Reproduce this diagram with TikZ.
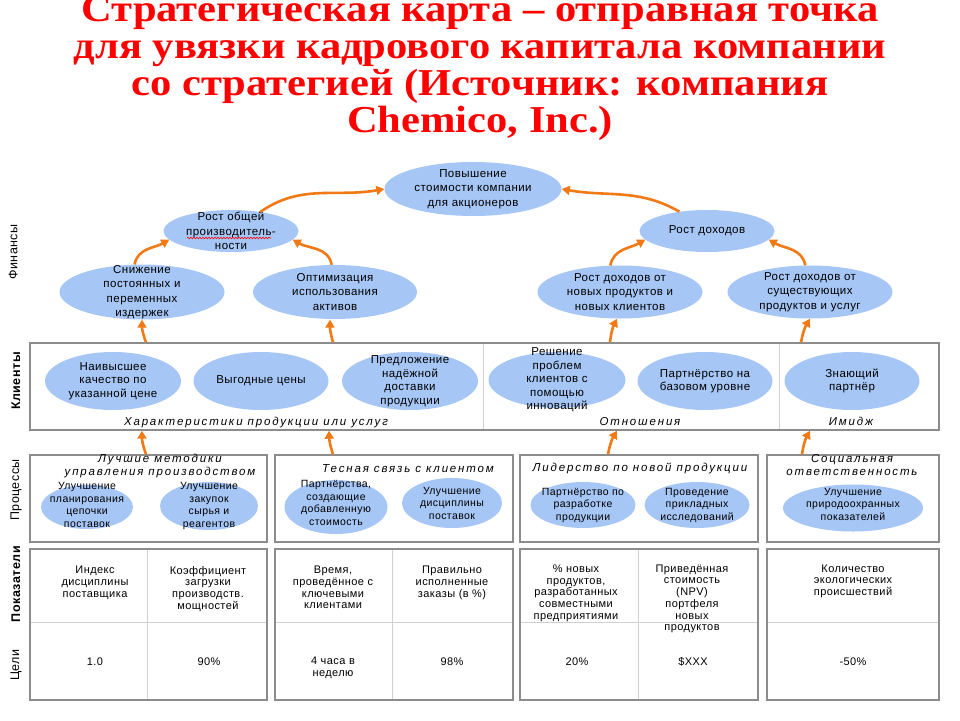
\documentclass[tikz,border=0pt]{standalone}
\usepackage{graphicx}
\usepackage{fontspec}
\setmainfont{Liberation Sans}
\newfontfamily\titlefont{Liberation Serif}
\newfontfamily\lblfont{Liberation Sans}[LetterSpace=4]
\newfontfamily\itfont{Liberation Sans}[LetterSpace=16]
\usetikzlibrary{shapes.geometric,arrows.meta,calc,decorations.pathmorphing}
\definecolor{ellblue}{RGB}{166,198,246}
\definecolor{arrorange}{RGB}{242,122,22}
\definecolor{boxgray}{RGB}{140,140,140}
\definecolor{divgray}{RGB}{208,208,208}
\definecolor{titlered}{RGB}{255,0,0}
\newcommand{\ttlline}[1]{\scalebox{1.12}[1]{#1}}
\begin{document}
\begin{tikzpicture}[x=1pt,y=-1pt,
  ttl/.style={anchor=base, text=titlered, inner sep=0pt, font=\titlefont\bfseries\fontsize{38}{38}\selectfont},
  ell/.style={ellipse, fill=ellblue, draw=none, inner sep=0pt},
  ftxt/.style={align=center, inner sep=0pt, font=\lblfont\fontsize{11.5}{14.5}\selectfont},
  ctxt/.style={align=center, inner sep=0pt, font=\lblfont\fontsize{11.5}{13.5}\selectfont},
  ptxt/.style={align=center, inner sep=0pt, font=\lblfont\fontsize{10.5}{12.5}\selectfont},
  ttxt/.style={align=center, inner sep=0pt, font=\lblfont\fontsize{11}{11.7}\selectfont},
  itxt/.style={align=center, inner sep=0pt, font=\itfont\itshape\fontsize{11.5}{13}\selectfont},
  side/.style={rotate=90, inner sep=0pt, font=\lblfont\fontsize{12.5}{13}\selectfont},
  box/.style={rectangle, draw=boxgray, line width=1.4pt, inner sep=0pt},
  divline/.style={draw=divgray, line width=1pt},
  arr/.style={draw=arrorange, line width=2.6pt, -{Triangle[length=8pt,width=9pt]}},
  squig/.style={draw=red, line width=0.6pt, decorate, decoration={snake, amplitude=0.8pt, segment length=3pt}}
]
\fill[white] (0,0) rectangle (960,720);
\useasboundingbox (0,0) rectangle (960,720);

% Title
\node[ttl] (ttl1) at (480,21) {\ttlline{Стратегическая карта – отправная точка}};
\node[ttl] (ttl2) at (480,58) {\ttlline{для увязки кадрового капитала компании}};
\node[ttl] (ttl3) at (480,95) {\ttlline{со стратегией (Источник: компания}};
\node[ttl] (ttl4) at (480,132) {\ttlline{Chemico, Inc.)}};

% Side labels
\node[side] (sfin) at (13,252) {Финансы};
\node[side, font=\lblfont\bfseries\fontsize{12.5}{13}\selectfont] (scli) at (16,381) {Клиенты};
\node[side] (sproc) at (16,490) {Процессы};
\node[side, font=\lblfont\bfseries\fontsize{12.5}{13}\selectfont] (spok) at (16,584) {Показатели};
\node[side] (sgoal) at (16,665) {Цели};

% Finance ellipses
\node[ell, minimum width=177, minimum height=54] (pov) at (473,189) {};
\node[ftxt] (povt) at (pov) {Повышение\\стоимости компании\\для акционеров};
\node[ell, minimum width=135, minimum height=42] (rog) at (231,231) {};
\node[ftxt] (rogt) at (rog) {Рост общей\\производитель-\\ности};
\node[ell, minimum width=165, minimum height=55] (sn) at (142,292) {};
\node[ftxt] (snt) at (sn) {Снижение\\постоянных и\\переменных\\издержек};
\node[ell, minimum width=164, minimum height=54] (op) at (335,292) {};
\node[ftxt] (opt) at (op) {Оптимизация\\использования\\активов};
\node[ell, minimum width=135, minimum height=42] (rd) at (707,231) {};
\node[ftxt] (rdt) at (rd) {Рост доходов};
\node[ell, minimum width=165, minimum height=53] (rn) at (620,292) {};
\node[ftxt] (rnt) at (rn) {Рост доходов от\\новых продуктов и\\новых клиентов};
\node[ell, minimum width=165, minimum height=53] (rs) at (810,292) {};
\node[ftxt] (rst) at (rs) {Рост доходов от\\существующих\\продуктов и услуг};
\draw[squig] (187,238) -- (271,238);

% Finance arrows
\draw[arr] (rog.33) to[out=35,in=190] (pov.west);
\draw[arr] (rd.145) to[out=150,in=-10] (pov.east);
\draw[arr] (sn.105) to[out=80,in=210] (rog.188);
\draw[arr] (op.97) to[out=100,in=-30] (rog.-8);
\draw[arr] (rn.110) to[out=80,in=210] (rd.188);
\draw[arr] (rs.100) to[out=100,in=-30] (rd.-8);

% Clients box
\node[box, minimum width=909, minimum height=87] (cbox) at (484.5,386.5) {};
\draw[divline] (483,344) -- (483,429);
\draw[divline] (779,344) -- (779,429);
\node[ell, minimum width=136, minimum height=58] (c1) at (113,381) {};
\node[ctxt] (c1t) at (c1) {Наивысшее\\качество по\\указанной цене};
\node[ell, minimum width=135, minimum height=58] (c2) at (261,381) {};
\node[ctxt] (c2t) at (c2) {Выгодные цены};
\node[ell, minimum width=136, minimum height=58] (c3) at (410,381) {};
\node[ctxt] (c3t) at (c3) {Предложение\\надёжной\\доставки\\продукции};
\node[ell, minimum width=137, minimum height=56] (c4) at (557,380) {};
\node[ctxt] (c4t) at (c4) {Решение\\проблем\\клиентов с\\помощью\\инноваций};
\node[ell, minimum width=135, minimum height=58] (c5) at (705,381) {};
\node[ctxt] (c5t) at (c5) {Партнёрство на\\базовом уровне};
\node[ell, minimum width=135, minimum height=58] (c6) at (852,381) {};
\node[ctxt] (c6t) at (c6) {Знающий\\партнёр};
\node[itxt, anchor=base] (lab1) at (256,425.5) {Характеристики продукции или услуг};
\node[itxt, anchor=base] (lab2) at (640,425.5) {Отношения};
\node[itxt, anchor=base] (lab3) at (851,425.5) {Имидж};

% Clients -> finance arrows
\draw[arr] ($(cbox.north -| sn.south)+(4,0)$) to[bend left=10] (sn.south);
\draw[arr] ($(cbox.north -| op.south)+(-2,0)$) to[bend left=8] ($(op.south)+(-5,0.5)$);
\draw[arr] ($(cbox.north -| rn.south)+(-10,0)$) to[bend left=10] ($(rn.south)+(-3,0)$);
\draw[arr] ($(cbox.north -| rs.south)+(-9,0)$) to[bend left=10] (rs.south);

% Process boxes
\node[box, minimum width=237, minimum height=87] (pb1) at (148.5,498.5) {};
\node[box, minimum width=238, minimum height=87] (pb2) at (394,498.5) {};
\node[box, minimum width=238, minimum height=87] (pb3) at (639,498.5) {};
\node[box, minimum width=172, minimum height=87] (pb4) at (853,498.5) {};
\node[itxt] (pt1) at (160,466.5) {Лучшие методики\\управления производством};
\node[itxt] (pt2) at (408,469) {Тесная связь с клиентом};
\node[itxt] (pt3) at (640,468) {Лидерство по новой продукции};
\node[itxt] (pt4) at (852,465.5) {Социальная\\ответственность};

\node[ell, minimum width=92, minimum height=44] (p1) at (87,507) {};
\node[ptxt] (p1t) at (87,505) {Улучшение\\планирования\\цепочки\\поставок};
\node[ell, minimum width=98, minimum height=48] (p2) at (209,506) {};
\node[ptxt] (p2t) at (209,506) {Улучшение\\закупок\\сырья и\\реагентов};
\node[ell, minimum width=103, minimum height=54] (p3) at (336,507) {};
\node[ptxt] (p3t) at (336,503) {Партнёрства,\\создающие\\добавленную\\стоимость};
\node[ell, minimum width=100, minimum height=50] (p4) at (452,503) {};
\node[ptxt] (p4t) at (p4) {Улучшение\\дисциплины\\поставок};
\node[ell, minimum width=105, minimum height=46] (p5) at (583,505) {};
\node[ptxt] (p5t) at (p5) {Партнёрство по\\разработке\\продукции};
\node[ell, minimum width=105, minimum height=46] (p6) at (697,505) {};
\node[ptxt] (p6t) at (p6) {Проведение\\прикладных\\исследований};
\node[ell, minimum width=140, minimum height=47] (p7) at (853,508) {};
\node[ptxt] (p7t) at (853,504) {Улучшение\\природоохранных\\показателей};

% Processes -> clients arrows
\draw[arr] ($(pb1.north -| sn.south)+(4,0)$) to[bend left=10] (cbox.south -| sn.south);
\draw[arr] ($(pb2.north -| op.south)+(-2,0)$) to[bend left=8] ($(cbox.south -| op.south)+(-6,0)$);
\draw[arr] ($(pb3.north -| rn.south)+(-12,0)$) to[bend left=10] ($(cbox.south -| rn.south)+(-3,0)$);
\draw[arr] ($(pb4.north -| rs.south)+(-8,0)$) to[bend left=10] (cbox.south -| rs.south);

% Indicator / goal tables
\node[box, minimum width=237, minimum height=151] (tb1) at (148.5,624.5) {};
\node[box, minimum width=238, minimum height=151] (tb2) at (394,624.5) {};
\node[box, minimum width=238, minimum height=151] (tb3) at (639,624.5) {};
\node[box, minimum width=172, minimum height=151] (tb4) at (853,624.5) {};
\draw[divline] (31,622) -- (266,622);
\draw[divline] (276,622) -- (512,622);
\draw[divline] (521,622) -- (757,622);
\draw[divline] (768,622) -- (938,622);
\draw[divline] (147,550) -- (147,699);
\draw[divline] (392,550) -- (392,699);
\draw[divline] (638,550) -- (638,699);

\node[ttxt, anchor=north] (i11) at (95,566) {Индекс\\дисциплины\\поставщика};
\node[ttxt, anchor=north] (i12) at (208,566) {Коэффициент\\загрузки\\производств.\\мощностей};
\node[ttxt, anchor=north] (i21) at (333,566) {Время,\\проведённое с\\ключевыми\\клиентами};
\node[ttxt, anchor=north] (i22) at (452,566) {Правильно\\исполненные\\заказы (в \%)};
\node[ttxt, anchor=north] (i31) at (576,564.5) {\% новых\\продуктов,\\разработанных\\совместными\\предприятиями};
\node[ttxt, anchor=north] (i32) at (692,564.5) {Приведённая\\стоимость\\(NPV)\\портфеля\\новых\\продуктов};
\node[ttxt, anchor=north] (i41) at (853,564.5) {Количество\\экологических\\происшествий};

\node[ttxt] (g11) at (95,662) {1.0};
\node[ttxt] (g12) at (209,662) {90\%};
\node[ttxt] (g21) at (333,668) {4 часа в\\неделю};
\node[ttxt] (g22) at (452,662) {98\%};
\node[ttxt] (g31) at (577,662) {20\%};
\node[ttxt] (g32) at (693,662) {\$XXX};
\node[ttxt] (g41) at (853,662) {-50\%};
\end{tikzpicture}
\end{document}
